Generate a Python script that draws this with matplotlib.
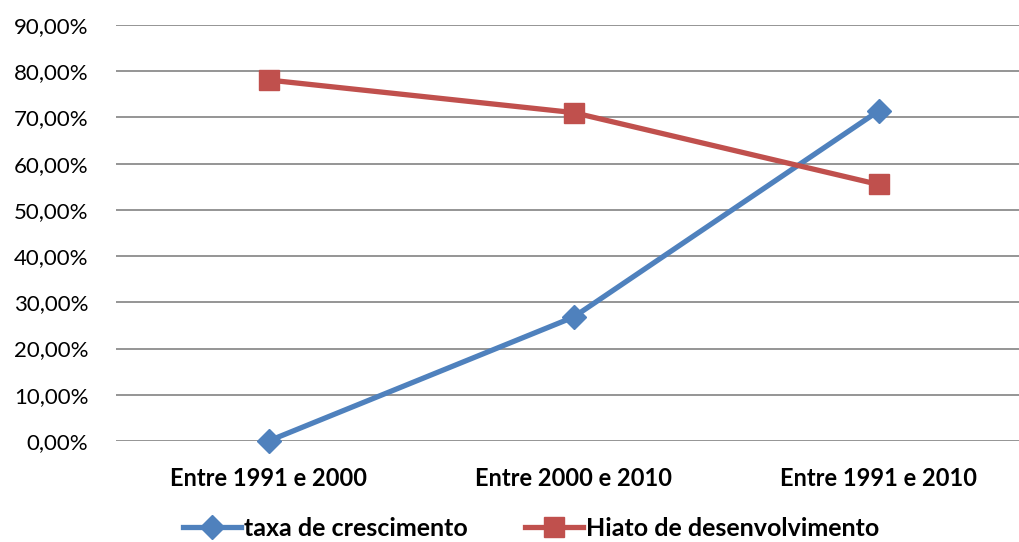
import matplotlib
matplotlib.use("Agg")
import matplotlib.pyplot as plt
from matplotlib.ticker import FuncFormatter

plt.rcParams['font.family'] = ['Lato', 'DejaVu Sans']

categories = ["Entre 1991 e 2000", "Entre 2000 e 2010", "Entre 1991 e 2010"]
taxa_crescimento = [0.00, 26.80, 71.40]
hiato_desenvolvimento = [78.10, 71.05, 55.50]
y_ticks = [0, 10, 20, 30, 40, 50, 60, 70, 80, 90]

W, H = 1019, 542
fig = plt.figure(figsize=(W / 100, H / 100), dpi=100)
ax = fig.add_axes([116 / W, (H - 441) / H, 915 / W, 416 / H])

x = list(range(len(categories)))
ax.plot(x, taxa_crescimento, color="#4F81BD", lw=3.8, marker="D", ms=12,
        label="taxa de crescimento", solid_joinstyle="round", zorder=3,
        clip_on=False)
ax.plot(x, hiato_desenvolvimento, color="#C0504D", lw=3.8, marker="s", ms=14,
        label="Hiato de desenvolvimento", solid_joinstyle="round", zorder=3,
        clip_on=False)

ax.set_xlim(-0.5, 2.5)
ax.set_ylim(0, 90)
ax.set_yticks(y_ticks)
ax.yaxis.set_major_formatter(FuncFormatter(lambda v, p: f"{v:.2f}%".replace(".", ",")))
ax.set_xticks(x)
ax.set_xticklabels(categories, fontweight="bold", fontsize=17)
ax.tick_params(axis="both", length=0, colors="black")
ax.tick_params(axis="y", pad=20, labelsize=16)
ax.tick_params(axis="x", pad=19)

ax.grid(axis="y", color="#8c8c8c", lw=1.3)
ax.set_axisbelow(True)
for s in ax.spines.values():
    s.set_visible(False)

leg = fig.legend(loc="center", bbox_to_anchor=(531 / W, (H - 528) / H), ncol=2,
                 frameon=False, prop={"weight": "bold", "size": 18},
                 handlelength=2.3, handletextpad=0.12, columnspacing=2.3,
                 borderaxespad=0)

fig.savefig("out.png", dpi=100)
